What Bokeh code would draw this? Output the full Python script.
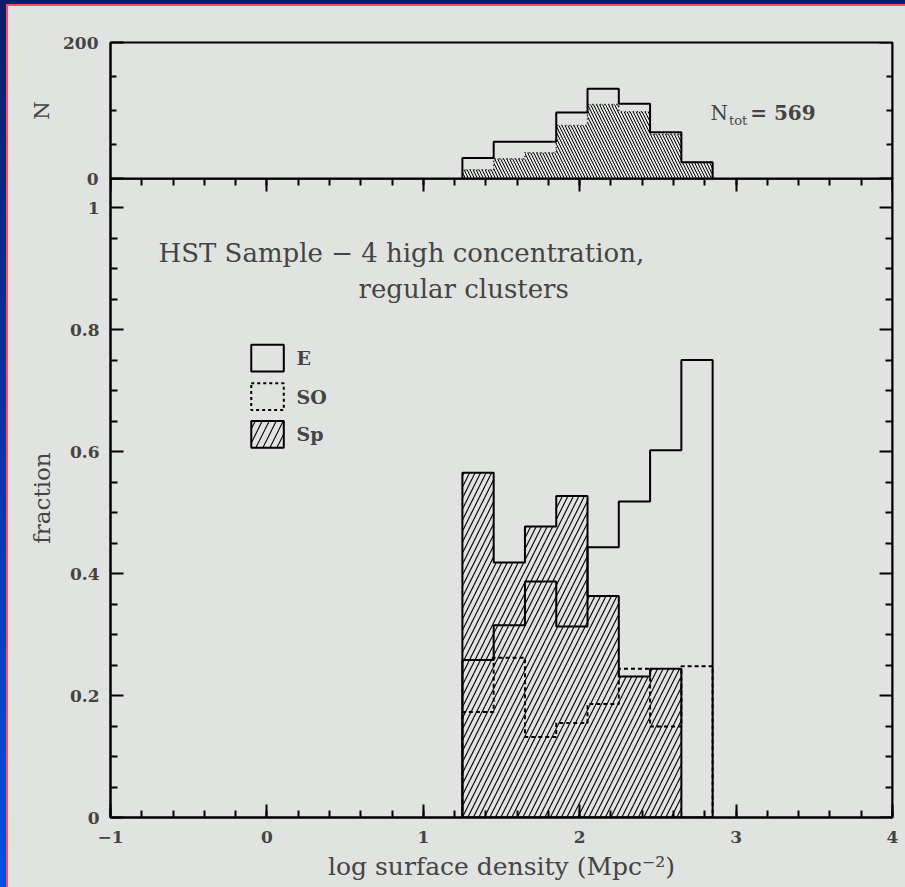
import numpy as np
from bokeh.plotting import figure
from bokeh.layouts import column
from bokeh.models import (Range1d, LinearAxis, FixedTicker, SingleIntervalTicker,
                          CustomJSTickFormatter, Label)
from bokeh.embed import file_html
from bokeh.resources import INLINE

# ---------------- data ----------------
bin_edges = [1.25, 1.45, 1.65, 1.85, 2.05, 2.25, 2.45, 2.65, 2.85]
n_total = [30, 54, 54, 97, 132, 110, 68, 24]
n_hatched = [13, 29, 38, 78, 109, 98, 65, 24]
frac_E = [0.258, 0.315, 0.387, 0.313, 0.443, 0.518, 0.602, 0.750]
frac_S0 = [0.173, 0.262, 0.132, 0.155, 0.186, 0.244, 0.149, 0.248]
frac_Sp = [0.565, 0.418, 0.477, 0.527, 0.363, 0.231, 0.244, 0.0]
legend_labels = ["E", "SO", "Sp"]
frac_ticks = [0.0, 0.2, 0.4, 0.6, 0.8, 1.0]
frac_minor = [i * 0.05 for i in range(1, 20) if i % 4]
n_ticks = [0, 200]
n_minor = [50, 100, 150]

# ---------------- layout constants ----------------
BG = "#e1e3e0"
FONT = "DejaVu Serif"
Y_MAX = 639 / 610.0   # fraction value at the top of the lower panel
OVERLAP = 12          # px the lower figure slides under the upper one


def step_xy(edges, vals):
    xs, ys = [edges[0]], [0.0]
    for i, v in enumerate(vals):
        xs += [edges[i], edges[i + 1]]
        ys += [v, v]
    xs.append(edges[-1])
    ys.append(0.0)
    return xs, ys


def style_axis(a, labelled, tick_major=13, tick_minor=7):
    a.major_tick_in = tick_major
    a.major_tick_out = 0
    a.minor_tick_in = tick_minor
    a.minor_tick_out = 0
    a.axis_line_width = 2
    a.major_tick_line_width = 2
    a.minor_tick_line_width = 2
    if labelled:
        a.major_label_text_font = FONT
        a.major_label_text_font_style = "bold"
        a.major_label_text_font_size = "17px"
        a.axis_label_text_font = FONT
        a.axis_label_text_font_style = "normal"
    else:
        a.major_label_text_color = None
        a.major_label_standoff = 0


xr = Range1d(-1, 4)
common = dict(output_backend="svg", toolbar_location=None,
              x_axis_location=None, y_axis_location=None,
              background_fill_alpha=0, border_fill_alpha=0,
              outline_line_color="black", outline_line_width=2)

# ---------------- top panel ----------------
p1 = figure(width=897, height=36 + 136 + OVERLAP, x_range=xr, y_range=Range1d(0, 200),
            min_border_left=102, min_border_right=13, min_border_top=36,
            min_border_bottom=OVERLAP, **common)
p1.xgrid.visible = False
p1.ygrid.visible = False

nfmt = CustomJSTickFormatter(code="return String(Math.round(tick));")
ax_nl = LinearAxis(ticker=FixedTicker(ticks=n_ticks, minor_ticks=n_minor),
                   formatter=nfmt, axis_label="N")
style_axis(ax_nl, True, tick_minor=6)
ax_nl.major_label_standoff = 12
ax_nl.axis_label_text_font_size = "21px"
ax_nl.axis_label_standoff = 6
p1.add_layout(ax_nl, "left")
ax_nr = LinearAxis(fixed_location=4, ticker=FixedTicker(ticks=n_ticks, minor_ticks=n_minor))
style_axis(ax_nr, False, tick_minor=6)
p1.add_layout(ax_nr, "right")

hx, hy = step_xy(bin_edges, n_hatched)
p1.patch(hx, hy, fill_alpha=0, hatch_pattern="left_diagonal_line",
         hatch_scale=6, hatch_weight=1.0, hatch_color="black",
         line_color="black", line_width=1.5, line_dash="1 3")
tx, ty = step_xy(bin_edges, n_total)
p1.line(tx, ty, line_color="black", line_width=2)

p1.add_layout(Label(x=2.836, y=97, text="N", text_font=FONT,
                    text_font_size="20px", text_baseline="alphabetic"))
p1.add_layout(Label(x=2.955, y=86, text="tot", text_font=FONT,
                    text_font_size="13px", text_baseline="alphabetic"))
p1.add_layout(Label(x=3.09, y=97, text="=  569", text_font=FONT,
                    text_font_size="20px", text_font_style="bold", text_baseline="alphabetic"))

# ---------------- bottom panel ----------------
p2 = figure(width=897, height=709, x_range=xr, y_range=Range1d(0, Y_MAX),
            min_border_left=102, min_border_right=13, min_border_top=0,
            min_border_bottom=70, **common)
p2.xgrid.visible = False
p2.ygrid.visible = False
p2.margin = (-OVERLAP, 0, 0, 0)

xfmt = CustomJSTickFormatter(code="var t = Math.round(tick); return t < 0 ? '\u2212' + Math.abs(t) : String(t);")
yfmt = CustomJSTickFormatter(code="if (Math.abs(tick) < 1e-9) return '0'; if (Math.abs(tick-1) < 1e-9) return '1'; return tick.toFixed(1);")

ax_b = LinearAxis(ticker=SingleIntervalTicker(interval=1, num_minor_ticks=5),
                  formatter=xfmt, axis_label="log surface density (Mpc\u207b\u00b2)")
style_axis(ax_b, True)
ax_b.major_label_standoff = 13
ax_b.axis_label_text_font_size = "25px"
ax_b.axis_label_standoff = 6
p2.add_layout(ax_b, "below")

ax_t = LinearAxis(fixed_location=Y_MAX, ticker=SingleIntervalTicker(interval=1, num_minor_ticks=5))
style_axis(ax_t, False)
p2.add_layout(ax_t, "above")

ax_l = LinearAxis(ticker=FixedTicker(ticks=frac_ticks, minor_ticks=frac_minor),
                  formatter=yfmt, axis_label="fraction")
style_axis(ax_l, True)
ax_l.major_label_standoff = 11
ax_l.axis_label_text_font_size = "23px"
ax_l.axis_label_standoff = 12
p2.add_layout(ax_l, "left")

ax_r = LinearAxis(fixed_location=4, ticker=FixedTicker(ticks=frac_ticks, minor_ticks=frac_minor))
style_axis(ax_r, False)
p2.add_layout(ax_r, "right")

sx, sy = step_xy(bin_edges, frac_Sp)
p2.patch(sx, sy, fill_alpha=0, hatch_pattern="right_diagonal_line", hatch_scale=11,
         hatch_weight=1.1, hatch_color="black", line_color="black", line_width=2)
ex, ey = step_xy(bin_edges, frac_E)
p2.line(ex, ey, line_color="black", line_width=2)
s0x, s0y = step_xy(bin_edges, frac_S0)
p2.line(s0x, s0y, line_color="black", line_width=2, line_dash="4 3")

# legend (drawn by hand)
leg_left, leg_right = -0.10, 0.108
leg_boxes = [(0.731, 0.775), (0.668, 0.712), (0.606, 0.650)]
p2.quad(left=leg_left, right=leg_right, bottom=leg_boxes[0][0], top=leg_boxes[0][1],
        fill_alpha=0, line_color="black", line_width=2)
p2.quad(left=leg_left, right=leg_right, bottom=leg_boxes[1][0], top=leg_boxes[1][1],
        fill_alpha=0, line_color="black", line_width=2, line_dash="3 3")
p2.quad(left=leg_left, right=leg_right, bottom=leg_boxes[2][0], top=leg_boxes[2][1],
        fill_alpha=0, line_color="black", line_width=2,
        hatch_pattern="right_diagonal_line", hatch_scale=14, hatch_weight=1.1, hatch_color="black")
for lab, (b, t) in zip(legend_labels, leg_boxes):
    p2.add_layout(Label(x=0.19, y=(b + t) / 2, text=lab, text_font=FONT, text_font_size="19px",
                        text_font_style="bold", text_baseline="middle"))

p2.add_layout(Label(x=-0.693, y=0.9246, text="HST Sample \u2212 4 high concentration,",
                    text_font=FONT, text_font_size="26px", text_baseline="alphabetic"))
p2.add_layout(Label(x=0.586, y=0.8656, text="regular clusters",
                    text_font=FONT, text_font_size="26px", text_baseline="alphabetic"))

inner = column(p1, p2, spacing=0, styles={"background": BG, "outline": "2px solid #ff4d5a"})
layout = column(inner, styles={"padding-left": "8px", "padding-top": "6px",
                               "background": "linear-gradient(to bottom, #0c1d6a 0%, #0a36b0 55%, #0050e6 100%)"})
open("out.html", "w").write(file_html(layout, INLINE))
